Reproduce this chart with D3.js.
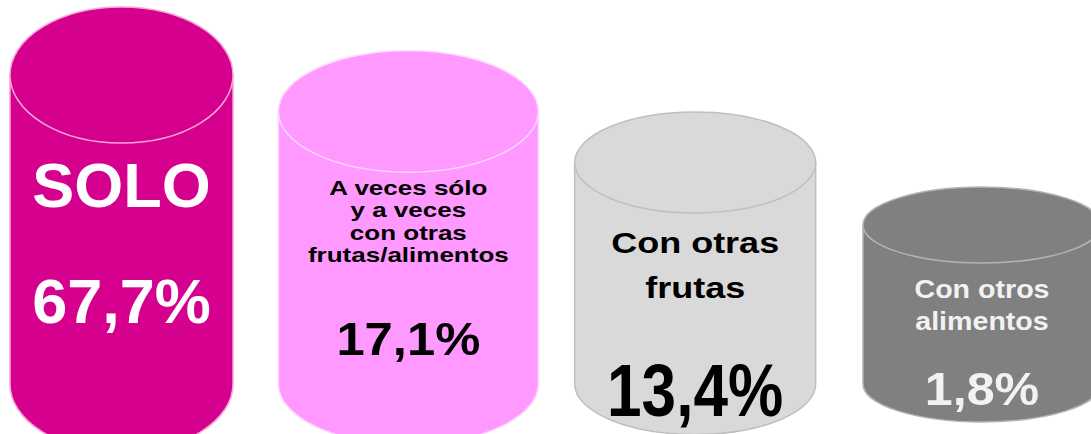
<!DOCTYPE html>
<html>
<head>
<meta charset="utf-8">
<script src="https://cdn.jsdelivr.net/npm/d3@7"></script>
<style>
  body { margin: 0; background: #fff; }
  svg { display: block; }
  text { font-family: "Liberation Sans", Arial, sans-serif; font-weight: bold; }
</style>
</head>
<body>
<svg id="chart" width="1091" height="434"></svg>
<script>
// data
var categories = ['Solo', 'A veces', 'Con otras frutas', 'Con otros alimentos'];
var values = [67.7, 17.1, 13.4, 1.8];
var labels = [
  ['SOLO'],
  ['A veces sólo', 'y a veces', 'con otras', 'frutas/alimentos'],
  ['Con otras', 'frutas'],
  ['Con otros', 'alimentos']
];

// look
var fills = ['#D6008F', '#FF99FF', '#D9D9D9', '#808080'];
var strokes = ['#F7A6D8', '#FFD6FF', '#BFBFBF', '#B3B3B3'];
var textColors = ['#FFFFFF', '#000000', '#000000', '#F2F2F2'];
var halfWidths = [111.5, 130, 120.5, 119];
var baseY = 384;

// label layout: font size, horizontal stretch, first baseline, line step
var labelLayout = [
  {size: 63, sx: 1, y: 207, step: 0, vSize: 63, vsx: 1, vy: 323},
  {size: 20, sx: 1.3, y: 195, step: 22.4, vSize: 47, vsx: 1.08, vy: 355},
  {size: 30, sx: 1.2, y: 253, step: 45, vSize: 74, vsx: 0.84, vy: 416},
  {size: 26, sx: 1.1, y: 298, step: 32, vSize: 46.5, vsx: 1.08, vy: 405}
];

var esLocale = d3.formatLocale({decimal: ',', thousands: '.', grouping: [3], currency: ['', ' €']});
var fmt = esLocale.format('.1f');

var svg = d3.select('#chart');

var x = d3.scalePoint()
    .domain(categories)
    .range([121.5, 982]);

// cylinder top centre, by value (pictogram heights, not proportional)
var sorted = values.slice().sort(d3.ascending);
var yTop = d3.scaleLinear()
    .domain(sorted)
    .range([225, 162.5, 111.5, 75]);

// perspective: lower tops look flatter
var ry = d3.scaleLinear()
    .domain([75, 225])
    .range([68, 38]);

var data = categories.map(function(c, i) {
  return {cat: c, value: values[i], label: labels[i], i: i};
});

var cyl = svg.selectAll('g.cyl')
    .data(data)
    .enter()
    .append('g')
    .attr('class', 'cyl');

// body
cyl.append('path')
    .attr('d', function(d) {
      var cx = x(d.cat), rx = halfWidths[d.i];
      var cy = yTop(d.value), r = ry(cy);
      return 'M' + (cx - rx) + ',' + cy +
        ' L' + (cx - rx) + ',' + baseY +
        ' A' + rx + ',' + r + ' 0 0 0 ' + (cx + rx) + ',' + baseY +
        ' L' + (cx + rx) + ',' + cy + ' Z';
    })
    .attr('fill', function(d) { return fills[d.i]; })
    .attr('stroke', function(d) { return strokes[d.i]; })
    .attr('stroke-width', 1.5);

// top ellipse
cyl.append('ellipse')
    .attr('cx', function(d) { return x(d.cat); })
    .attr('cy', function(d) { return yTop(d.value); })
    .attr('rx', function(d) { return halfWidths[d.i]; })
    .attr('ry', function(d) { return ry(yTop(d.value)); })
    .attr('fill', function(d) { return fills[d.i]; })
    .attr('stroke', function(d) { return strokes[d.i]; })
    .attr('stroke-width', 1.5);

// category text
cyl.each(function(d) {
  var g = d3.select(this);
  var L = labelLayout[d.i];
  var cx = x(d.cat);
  d.label.forEach(function(line, k) {
    g.append('text')
        .attr('transform', 'translate(' + cx + ',' + (L.y + k * L.step) + ') scale(' + L.sx + ',1)')
        .attr('text-anchor', 'middle')
        .attr('font-size', L.size)
        .attr('fill', textColors[d.i])
        .text(line);
  });
  g.append('text')
      .attr('transform', 'translate(' + cx + ',' + L.vy + ') scale(' + L.vsx + ',1)')
      .attr('text-anchor', 'middle')
      .attr('font-size', L.vSize)
      .attr('fill', textColors[d.i])
      .text(fmt(d.value) + '%');
});
</script>
</body>
</html>
